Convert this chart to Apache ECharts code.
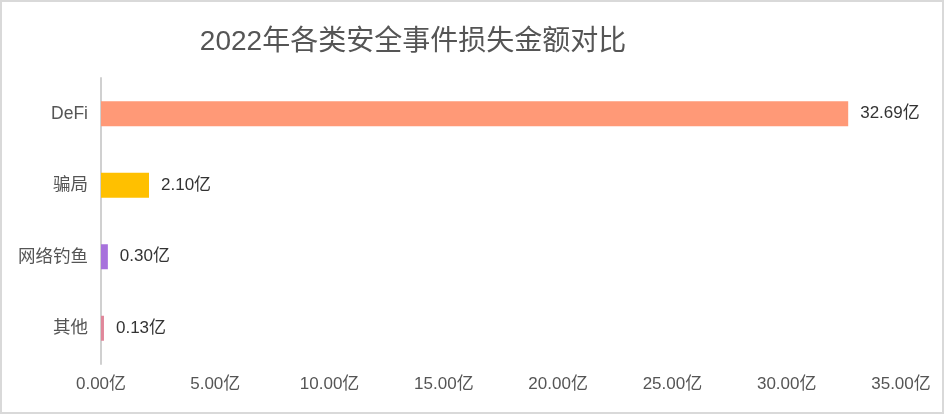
<!DOCTYPE html>
<html>
<head>
<meta charset="utf-8">
<script src="https://cdn.jsdelivr.net/npm/echarts@6/dist/echarts.min.js"></script>
<style>
html,body{margin:0;padding:0;background:#fff;}
#c{width:944px;height:414px;box-sizing:border-box;border:2px solid #d9d9d9;}
</style>
</head>
<body>
<div id="c"></div>
<script>
const titleText = '2022年各类安全事件损失金额对比';
const categories = ['DeFi', '骗局', '网络钓鱼', '其他'];
const values = [32.69, 2.10, 0.30, 0.13];
const barColors = ['#FF9977', '#FFC000', '#A772DC', '#E0879A'];
const xMin = 0, xMax = 35, xStep = 5;
const unit = '亿';

const font = '"Liberation Sans", "Noto Sans CJK SC", sans-serif';
const chart = echarts.init(document.getElementById('c'));
chart.setOption({
  animation: false,
  title: {
    text: titleText,
    left: 406, top: 21, textAlign: 'center',
    textStyle: {fontSize: 28, fontWeight: 'normal', color: '#555', fontFamily: font}
  },
  grid: {left: 99, right: 41, top: 76, bottom: 48, containLabel: false},
  xAxis: {
    type: 'value', min: xMin, max: xMax, interval: xStep,
    axisLine: {show: false}, axisTick: {show: false}, splitLine: {show: false},
    axisLabel: {formatter: v => v.toFixed(2) + unit, color: '#555', fontSize: 17, fontFamily: font, margin: 12}
  },
  yAxis: {
    type: 'category', data: categories, inverse: true,
    axisLine: {show: true, lineStyle: {color: '#d0d0d0', width: 2}},
    axisTick: {show: false},
    axisLabel: {color: '#555', fontSize: 17.5, fontFamily: font, margin: 13}
  },
  series: [{
    type: 'bar',
    barWidth: 25,
    data: values.map((v, i) => ({value: v, itemStyle: {color: barColors[i]}})),
    label: {
      show: true, position: 'right', distance: 12,
      formatter: p => p.value.toFixed(2) + unit,
      color: '#333', fontSize: 17, fontFamily: font
    }
  }]
});
</script>
</body>
</html>
